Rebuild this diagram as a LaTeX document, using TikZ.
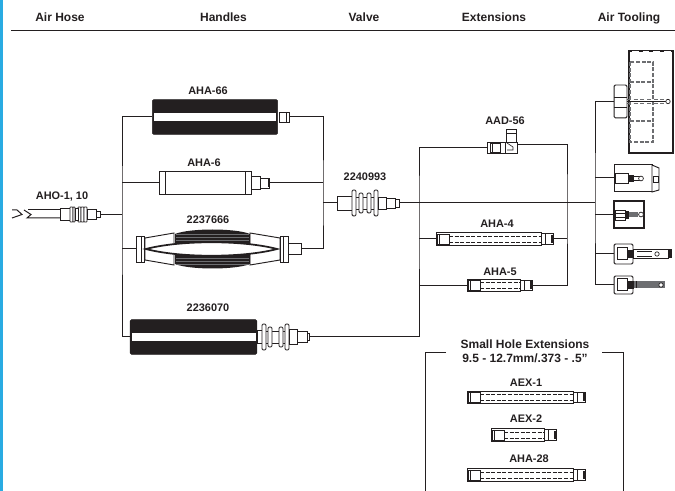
\documentclass[tikz,border=0pt]{standalone}
\usepackage{fontspec}
\setmainfont{Liberation Sans}
\usetikzlibrary{arrows.meta,positioning,calc}
\definecolor{ahblack}{HTML}{231F20}
\definecolor{ahblue}{HTML}{29ABE2}
\definecolor{ahgray}{HTML}{6D6E71}
\tikzset{
  ah/head/.style={
    text=ahblack, inner sep=0pt, anchor=base, font=\fontsize{9}{11}\selectfont\bfseries
  },
  ah/label/.style={
    text=ahblack, inner sep=0pt, font=\fontsize{8.2}{10}\selectfont\bfseries
  },
  ah/grip/.style={
    draw=ahblack, fill=ahblack, rounded corners=1pt, inner sep=0pt
  },
  ah/tube/.style={
    draw=ahblack, fill=white, line width=0.7pt, inner sep=0pt
  },
  ah/stripe/.style={
    draw=none, fill=white, inner sep=0pt
  },
  ah/wire/.style={ahblack, line width=0.75pt},
  ah/thin/.style={ahblack, line width=0.5pt},
  ah/dash/.style={ahblack, line width=0.5pt, dash pattern=on 3pt off 1.2pt}
}
% extension with a square socket, a dashed bore and a short tip
\newcommand{\extbody}[4]{%
  \begin{scope}[shift={(#2,#3)}]
    \node[ah/tube, anchor=west, minimum width={#4*0.75pt}, minimum height=9.6pt] (#1) at (0,0) {};
    \node[ah/tube, anchor=west, minimum width=9pt, minimum height=7.6pt] (#1tip) at (#4,0) {};
    \draw[ah/thin, fill=white] (1,-5) rectangle (13,5);
    \draw[ah/thin] (3,-5) -- (3,5);
    \draw[ah/dash] (13,-3) -- (#4,-3);
    \draw[ah/dash] (13,3) -- (#4,3);
    \draw[ah/thin] (#4+4,-5) -- (#4+4,5);
    \draw[ahblack, line width=1pt] (#4+11,-4) -- (#4+11,4);
  \end{scope}}
% stepped fitting with ribs
\newcommand{\ribfit}[3]{%
  \foreach \ribx/\ribh in {#3}
    \draw[ah/thin, line width=0.7pt, fill=white, rounded corners=1pt]
      (#1+\ribx,#2-\ribh) rectangle (#1+\ribx+4,#2+\ribh);}

\begin{document}
\begin{tikzpicture}[x=0.75pt, y=-0.75pt]
  \useasboundingbox (0,0) rectangle (675,491);
  \fill[ahblue] (0,0) rectangle (3,491);

  % column heads
  \node[ah/head] (headhose) at (60,22) {Air Hose};
  \node[ah/head] (headhandles) at (223.5,22) {Handles};
  \node[ah/head] (headvalve) at (364,22) {Valve};
  \node[ah/head] (headext) at (494,22) {Extensions};
  \node[ah/head] (headtool) at (629,22) {Air Tooling};
  \draw[ahblack, line width=1.1pt] (11,30.5) -- (675,30.5);

  % air hose
  \node[ah/label] (lblhose) at (62,197) {AHO-1, 10};
  \draw[ah/wire] (12,210) -- (17,210) -- (22,214.5) -- (12,218);
  \draw[ah/wire] (24,210) -- (31,214.5) -- (27,218) -- (60,218);
  \draw[ah/wire] (28,210) -- (60,210);
  \node[ah/tube, anchor=west, minimum width=7.5pt, minimum height=9pt] (hosea) at (60,214) {};
  \foreach \x/\w in {70/3,73/2,78/3,81/3,84/3}
    \draw[ah/thin, fill=white, rounded corners=0.5pt] (\x,207) rectangle (\x+\w,222);
  \node[ah/tube, anchor=west, minimum width=2pt, minimum height=9pt] (hoseb) at (75,214.5) {};
  \node[ah/tube, anchor=west, minimum width=7pt, minimum height=7.5pt] (hosec) at (87,214.5) {};
  \node[ah/tube, anchor=west, minimum width=3pt, minimum height=5pt] (aho) at (96,214.5) {};

  % handles
  \node[ah/label] (lblaha66) at (208,91) {AHA-66};
  \node[ah/grip, minimum width=94pt, minimum height=26pt] (aha66) at (215,117) {};
  \node[ah/stripe, minimum width=92pt, minimum height=6.4pt] (aha66s) at (215,117) {};
  \node[ah/tube, anchor=west, minimum width=7.5pt, minimum height=7.5pt] (aha66tip) at (279,117) {};
  \draw[ah/thin] (286,112) -- (286,122);

  \node[ah/label] (lblaha6) at (204,163) {AHA-6};
  \node[ah/tube, minimum width=69pt, minimum height=17pt] (aha6) at (205,183) {};
  \draw[ah/thin] (165,172) -- (165,195) (245,172) -- (245,195);
  \node[ah/tube, anchor=west, minimum width=6.5pt, minimum height=10pt] (aha6a) at (251,183) {};
  \node[ah/tube, anchor=west, minimum width=7pt, minimum height=7.5pt] (aha6tip) at (260,183) {};
  \draw[ahblack, line width=1pt] (269,179) -- (269,187);

  \node[ah/label] (lbl2237) at (208,220) {2237666};
  \node[ah/tube, minimum width=6.5pt, minimum height=19.5pt] (h2237cap) at (140.5,249) {};
  \draw[ah/thin] (141,236) -- (141,262);
  \draw[ah/tube] (145,238) -- (174,233) -- (174,265) -- (145,260) -- cycle;
  \draw[ah/tube] (250,233) -- (280,238) -- (280,260) -- (250,265) -- cycle;
  \fill[ahblack] (175,234) .. controls (190,228) and (235,228) .. (250,234)
    -- (250,264) .. controls (235,270) and (190,270) .. (175,264) -- cycle;
  \foreach \y in {234,237,240,258,261,264}
    \draw[ahgray, line width=0.4pt] (176,\y) -- (249,\y);
  \draw[ahblack, line width=1.3pt, fill=white] (146,249) .. controls (180,240) and (243,240)
    .. (277,249) .. controls (243,258) and (180,258) .. (146,249) -- cycle;
  \node[ah/tube, minimum width=6pt, minimum height=19.5pt] (h2237capr) at (284,249) {};
  \draw[ah/thin] (283,236) -- (283,262);
  \node[ah/tube, anchor=west, minimum width=9.5pt, minimum height=8.5pt] (h2237tip) at (288,249) {};

  \node[ah/label] (lbl2236) at (208,308) {2236070};
  \node[ah/grip, minimum width=95pt, minimum height=26pt] (h2236) at (193.5,337) {};
  \node[ah/stripe, minimum width=93pt, minimum height=6.6pt] (h2236s) at (193.5,337) {};
  \node[ah/tube, anchor=west, minimum width=4pt, minimum height=9.5pt] (h2236a) at (257,337) {};
  \draw[ah/tube] (262,331) rectangle (289,343);
  \ribfit{262}{337}{0/13,6/10,17/10,23/13}
  \node[ah/tube, anchor=west, minimum width=6pt, minimum height=11pt] (h2236b) at (289,337) {};
  \node[ah/tube, anchor=west, minimum width=7.5pt, minimum height=8pt] (h2236c) at (297,337) {};
  \node[ah/tube, anchor=west, minimum width=1.5pt, minimum height=5.5pt] (h2236tip) at (307,337) {};

  % valve
  \node[ah/label] (lblvalve) at (365,177) {2240993};
  \node[ah/tube, anchor=west, minimum width=11pt, minimum height=10.5pt] (valve) at (337,203) {};
  \draw[ah/tube] (352,197) rectangle (378,209);
  \ribfit{352}{203}{0/13,7/10,15/10,22/13}
  \node[ah/tube, anchor=west, minimum width=6pt, minimum height=9pt] (valvea) at (378,203) {};
  \node[ah/tube, anchor=west, minimum width=7pt, minimum height=7.5pt] (valveb) at (386,203) {};
  \node[ah/tube, anchor=west, minimum width=3pt, minimum height=6pt] (valvetip) at (395,203) {};

  % extensions
  \node[ah/label] (lblaad) at (505,121) {AAD-56};
  \node[ah/tube, minimum width=13.5pt, minimum height=8.25pt] (aad) at (496,147.5) {};
  \draw[ah/thin, fill=white] (490,143) rectangle (500,152);
  \draw[ah/thin] (492,143) -- (492,152);
  \node[ah/tube, minimum width=9pt, minimum height=8.25pt] (aadr) at (511,147.5) {};
  \draw[ah/thin, fill=white] (506,129) rectangle (516,142);
  \draw[ah/thin] (506,133) -- (516,133);
  \draw[ah/thin] (507,143) -- (513,147) -- (513,150) -- (507,150);
  \coordinate (aadout) at (517,145);

  \node[ah/label] (lblaha4) at (497,224) {AHA-4};
  \extbody{aha4}{436}{239}{105}
  \node[ah/label] (lblaha5) at (500,272) {AHA-5};
  \extbody{aha5}{467}{285.5}{53}

  % small hole extensions
  \node[ah/label, font=\fontsize{9}{10.5}\selectfont\bfseries, align=center] (lblsmall) at (525,351) {Small Hole Extensions\\9.5 - 12.7mm/.373 - .5''};
  \draw[ah/wire] (446,353) -- (425,353) -- (425,491);
  \draw[ah/wire] (602,353) -- (623,353) -- (623,491);
  \node[ah/label] (lblaex1) at (526,383) {AEX-1};
  \extbody{aex1}{467}{397.5}{106}
  \node[ah/label] (lblaex2) at (526,419) {AEX-2};
  \extbody{aex2}{491}{435}{53}
  \node[ah/label] (lblaha28) at (529,459) {AHA-28};
  \extbody{aha28}{467}{475}{106}

  % air tooling
  \draw[ahblack, line width=1.3pt, fill=white] (629,51) rectangle (673,153);
  \draw[white, line width=0.6pt, dash pattern=on 5pt off 3pt] (632,51) -- (672,51);
  \draw[ah/dash, ahgray, line width=0.9pt] (630,62) rectangle (653,142);
  \draw[ah/dash, ahgray, line width=0.9pt] (630,82) -- (653,82) (630,121) -- (653,121);
  \draw[ahgray, line width=1.2pt, densely dashed] (627,99.5) -- (668,99.5) (627,103.5) -- (668,103.5);
  \draw[ahblack, line width=1pt] (627,101.5) -- (666,101.5);
  \draw[ah/thin, fill=white] (668,101.5) circle (2.2);
  \node[ah/tube, rounded corners=1pt, minimum width=9.7pt, minimum height=24.7pt] (tool1) at (620.5,101.5) {};
  \draw[ah/thin] (614,97) -- (627,97) (614,107) -- (627,107);

  \node[ah/tube, minimum width=28.5pt, minimum height=20pt] (tool2) at (633,178) {};
  \draw[ah/tube] (652,165) -- (659,168) -- (659,190) -- (652,192) -- cycle;
  \draw[ah/thin] (653,176) rectangle (658,182);
  \draw[ah/thin, fill=white] (615,173) rectangle (628,183);
  \fill[ahblack] (628,175) rectangle (634,182);
  \draw[ah/thin] (634,176.5) -- (640,176.5) (634,180.5) -- (640,180.5);
  \draw[ah/thin, fill=white] (641,178.5) circle (2.4);

  \node[ah/tube, line width=1.3pt, minimum width=22.5pt, minimum height=20pt] (tool3) at (629,214.5) {};
  \draw[ah/thin, fill=white] (615,210) rectangle (625,220);
  \draw[ah/thin] (615,213) -- (625,213) (615,217) -- (625,217);
  \fill[ahblack] (625,211) rectangle (629,219);
  \fill[ahgray] (629,212) rectangle (638,217);
  \draw[ah/thin, fill=white] (641,214.5) circle (2.4);

  \node[ah/tube, rounded corners=1pt, minimum width=14.2pt, minimum height=15pt] (tool4) at (623.5,254) {};
  \draw[ah/wire, fill=white] (617,248) rectangle (627,260);
  \fill[ahblack] (627,250) rectangle (633,258);
  \draw[ah/thin, fill=white] (633,249) rectangle (668,258);
  \draw[ah/thin] (637,251) -- (652,251) (637,256) -- (652,256);
  \fill[ahblack] (668,249) rectangle (672,258);
  \draw[ah/thin, fill=white] (657,254) circle (2.2);

  \node[ah/tube, rounded corners=1pt, minimum width=14.2pt, minimum height=13.5pt] (tool5) at (623.5,285) {};
  \draw[ah/wire, fill=white] (617,279) rectangle (627,291);
  \fill[ahblack] (627,281) rectangle (634,289);
  \fill[ahgray] (634,281) rectangle (665,288);
  \draw[ah/thin] (636,281) -- (636,288);
  \draw[ah/thin, fill=white] (661,285) circle (2.2);

  % connectors
  \coordinate (busL) at (122,214.5);
  \coordinate (busR) at (323,203);
  \coordinate (busE) at (419,203);
  \coordinate (busX) at (567,203);
  \coordinate (busT) at (595,203);
  \draw[ah/wire] (aho.east) -- (busL);
  \draw[ah/wire] (aha66.west) -| (busL) |- (h2236.west);
  \draw[ah/wire] (aha6.west) -- (aha6.west -| busL);
  \draw[ah/wire] (h2237cap.west) -- (h2237cap.west -| busL);
  \draw[ah/wire] (aha66tip.east) -| (busR) |- (h2237tip.east);
  \draw[ah/wire] (aha6tip.east) -- (aha6tip.east -| busR);
  \draw[ah/wire] (busR) -- (valve.west);
  \draw[ah/wire] (valvetip.east) -- (busT);
  \draw[ah/wire] (aad.west) -| (busE) |- (h2236tip.east);
  \draw[ah/wire] (aha4.west) -- (aha4.west -| busE);
  \draw[ah/wire] (aha5.west) -- (aha5.west -| busE);
  \draw[ah/wire] (aadout) -| (busX) |- (aha5tip.east);
  \draw[ah/wire] (aha4tip.east) -- (aha4tip.east -| busX);
  \draw[ah/wire] (tool1.west) -| (busT) |- (tool5.west);
  \draw[ah/wire] (tool2.west) -- (tool2.west -| busT);
  \draw[ah/wire] (tool3.west) -- (tool3.west -| busT);
  \draw[ah/wire] (tool4.west) -- (tool4.west -| busT);
\end{tikzpicture}
\end{document}
